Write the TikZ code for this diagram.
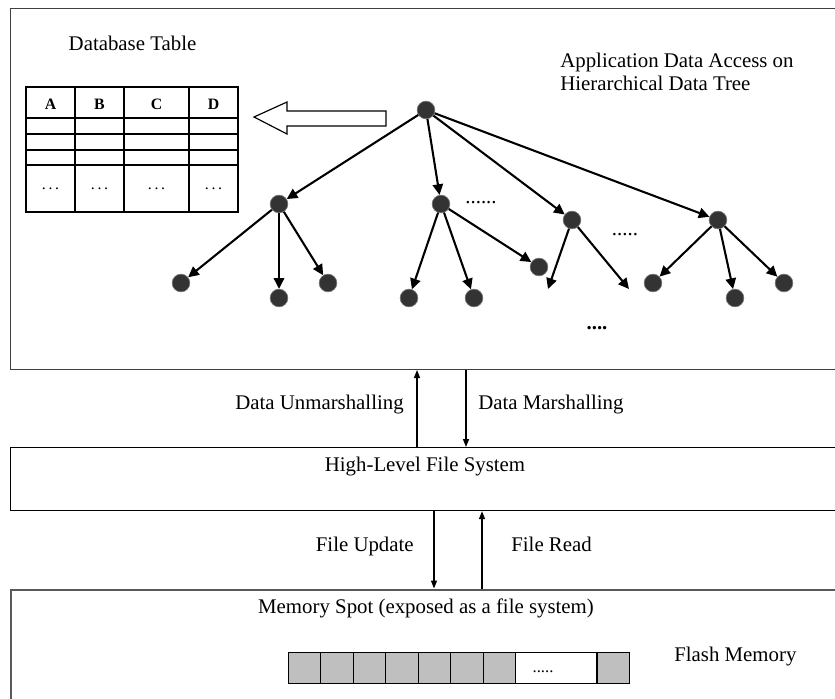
\documentclass[tikz,border=0pt]{standalone}
\usepackage{fontspec}
\setmainfont{Liberation Serif}
\usetikzlibrary{arrows.meta, positioning, calc}

\tikzset{
  layer/.style={draw, line width=0.7pt, anchor=north west, inner sep=0pt, minimum width=501.3pt},
  dot/.style={circle, fill=black!80, draw=black!55, line width=0.4pt, minimum size=10.6pt, inner sep=0pt},
  edge/.style={line width=1.25pt, -{Triangle[length=6.4pt, width=6.2pt]}},
  flow/.style={line width=0.8pt, -{Triangle[length=4.8pt, width=3.6pt]}},
  cell/.style={draw, line width=0.8pt, fill=black!25, minimum width=19.5pt, minimum height=18.6pt, inner sep=0pt, anchor=north west},
  txt/.style={font=\fontsize{12.5}{13.8}\selectfont, inner sep=0pt},
  head/.style={font=\fontsize{9.5}{10}\selectfont\bfseries, inner sep=0pt}
}

\begin{document}
\begin{tikzpicture}[x=0.6pt, y=-0.6pt]
        \useasboundingbox (0,0) rectangle (835,698);

        % layers
        \node[layer, draw=black!75, line width=0.9pt, minimum height=216.6pt] (app) at (9.5,7.5) {};
        \node[layer, minimum height=37.8pt] (fs) at (9.5,447) {};
        \node[layer, draw=black!65, line width=1.2pt, minimum height=75pt] (mem) at (9.5,588.5) {};

        % database table
        \node[txt] (dbt) at (132.5,43) {Database Table};
        \draw[line width=0.7pt] (26,87) rectangle (238,212);
        \foreach \x in {75,124,189} \draw[line width=0.7pt] (\x,87) -- (\x,212);
        \foreach \y in {118,134,150,165} \draw[line width=0.7pt] (26,\y) -- (238,\y);
        \foreach \x/\c in {50.5/A,99.5/B,156.5/C,213.5/D} \node[head] at (\x,104) {\c};
        \foreach \x in {50.5,99.5,156.5,213.5} \node[head, font=\fontsize{9.5}{10}\selectfont] at (\x,189) {.\,.\,.};

        % hollow arrow
        \draw[line width=0.7pt] (254,117) -- (287,102) -- (287,111) -- (386,111) -- (386,126) -- (287,126) -- (287,134) -- cycle;

        % tree
        \node[txt, align=left, anchor=west] (tlbl) at (560,72) {Application Data Access on\\Hierarchical Data Tree};
        \node[dot] (root) at (426,110) {};
        \node[dot] (a) at (279,204) {};
        \node[dot] (b) at (441,204) {};
        \node[dot] (c) at (572,220) {};
        \node[dot] (d) at (718,220) {};
        \node[dot] (a1) at (181,283) {};
        \node[dot] (a2) at (279,298) {};
        \node[dot] (a3) at (328,283) {};
        \node[dot] (b1) at (409,298) {};
        \node[dot] (b2) at (474,298) {};
        \node[dot] (b3) at (539,267) {};
        \coordinate (c1) at (548,289);
        \coordinate (c2) at (629,289);
        \node[dot] (d1) at (653,283) {};
        \node[dot] (d2) at (735,298) {};
        \node[dot] (d3) at (784,283) {};
        \foreach \t in {a,b,c,d} \draw[edge] (root) -- (\t);
        \foreach \t in {a1,a2,a3} \draw[edge] (a) -- (\t);
        \foreach \t in {b1,b2,b3} \draw[edge] (b) -- (\t);
        \foreach \t in {c1,c2} \draw[edge] (c) -- (\t);
        \foreach \t in {d1,d2,d3} \draw[edge] (d) -- (\t);
        \node[txt] (bdots) at (481,203) {......};
        \node[txt] (cdots) at (625,235) {.....};
        \node[txt, font=\fontsize{12.5}{13.8}\selectfont\bfseries] (ldots) at (597,328) {....};

        % marshalling
        \coordinate (u1) at (417,0);
        \coordinate (u2) at (466,0);
        \draw[flow] (fs.north -| u1) -- (app.south -| u1);
        \draw[flow] (app.south -| u2) -- (fs.north -| u2);
        \node[txt, anchor=base east] (unm) at (404,409) {Data Unmarshalling};
        \node[txt, anchor=base west] (mar) at (478,409) {Data Marshalling};
        \node[txt] (fsl) at (425,467) {High-Level File System};

        % file access
        \coordinate (v1) at (434,0);
        \coordinate (v2) at (482,0);
        \draw[flow] (fs.south -| v1) -- (mem.north -| v1);
        \draw[flow] (mem.north -| v2) -- (fs.south -| v2);
        \node[txt, anchor=base east] (upd) at (414,551) {File Update};
        \node[txt, anchor=base west] (rd) at (511,551) {File Read};
        \node[txt] (meml) at (426,608) {Memory Spot (exposed as a file system)};

        % flash memory
        \foreach \i in {0,...,6} \node[cell] (f\i) at (287.5+32.5*\i,652) {};
        \node[cell, fill=white, minimum width=48.6pt] (fgap) at (515,652) {};
        \node[cell] (flast) at (596.4,652) {};
        \node[txt, font=\fontsize{10}{11}\selectfont] (gdots) at (543,672) {.....};
        \node[txt, anchor=base west] (flash) at (674,661) {Flash Memory};
\end{tikzpicture}
\end{document}
